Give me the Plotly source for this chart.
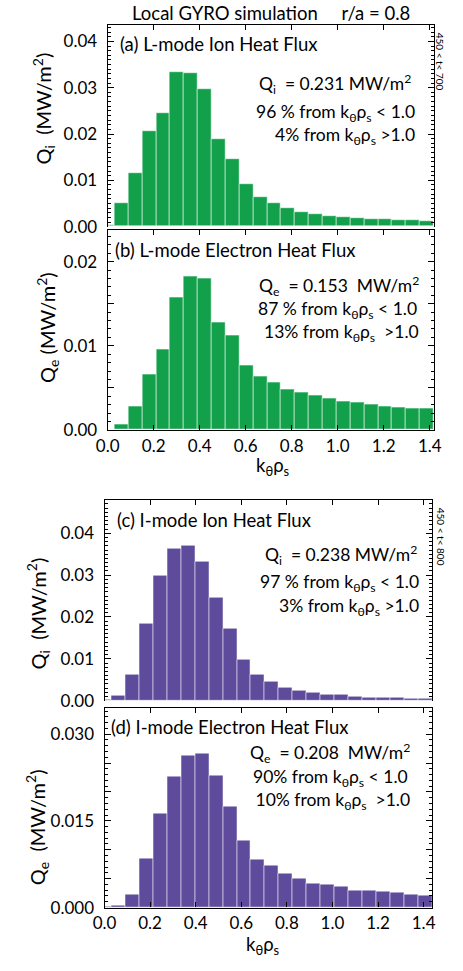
import plotly.graph_objects as go

W, H = 463, 971

# k_theta * rho_s grid (bin centres) for the two runs
k_lmode = [0.0, 0.0603, 0.1206, 0.1809, 0.2412, 0.3015, 0.3618, 0.4221, 0.4824, 0.5427,
           0.6030, 0.6633, 0.7236, 0.7839, 0.8442, 0.9045, 0.9648, 1.0251, 1.0854, 1.1457,
           1.2060, 1.2663, 1.3266, 1.3869]
k_imode = [0.0, 0.0612, 0.1224, 0.1836, 0.2448, 0.3060, 0.3672, 0.4284, 0.4896, 0.5508,
           0.6120, 0.6732, 0.7344, 0.7956, 0.8568, 0.9180, 0.9792, 1.0404, 1.1016, 1.1628,
           1.2240, 1.2852, 1.3464, 1.4076]
dk_lmode = 0.0603
dk_imode = 0.0612

# heat flux spectra (MW/m^2 per bin)
qi_lmode = [0.0002, 0.0050, 0.0116, 0.0207, 0.0246, 0.0334, 0.0331, 0.0297, 0.0188, 0.0146,
            0.0091, 0.0063, 0.0050, 0.0039, 0.0031, 0.0027, 0.0023, 0.0021, 0.0019, 0.0017,
            0.0016, 0.0014, 0.0013, 0.0012]
qe_lmode = [0.0001, 0.0007, 0.0028, 0.0066, 0.0096, 0.0157, 0.0182, 0.0180, 0.0127, 0.0112,
            0.0077, 0.0063, 0.0056, 0.0048, 0.0044, 0.0041, 0.0037, 0.0034, 0.0032, 0.0030,
            0.0028, 0.0027, 0.0026, 0.0025]
qi_imode = [0.0001, 0.0012, 0.0061, 0.0183, 0.0299, 0.0364, 0.0369, 0.0331, 0.0247, 0.0171,
            0.0097, 0.0061, 0.0046, 0.0031, 0.0024, 0.0018, 0.0015, 0.0013, 0.0009, 0.0008,
            0.0006, 0.0006, 0.0005, 0.0004]
qe_imode = [0.0001, 0.0003, 0.0022, 0.0084, 0.0163, 0.0226, 0.0263, 0.0267, 0.0228, 0.0174,
            0.0115, 0.0083, 0.0073, 0.0058, 0.0050, 0.0041, 0.0039, 0.0036, 0.0030, 0.0029,
            0.0027, 0.0025, 0.0023, 0.0021]

x_ticks = [0.0, 0.2, 0.4, 0.6, 0.8, 1.0, 1.2, 1.4]
x_ticklabels = ["0.0", "0.2", "0.4", "0.6", "0.8", "1.0", "1.2", "1.4"]

GREEN = "#12a04b"
PURPLE = "#5f4b9c"
EDGE = "rgba(255,255,255,0.5)"
FONT = "Lato"


def px(x):
    return x / W


def py(y):
    return 1 - y / H


fig = go.Figure()

panels = [
    dict(k=k_lmode, q=qi_lmode, dk=dk_lmode, color=GREEN, xdom=(100, 440.7), ydom=(229, 25.5),
         yrange=[0, 0.0435], yticks=[0, 0.01, 0.02, 0.03, 0.04],
         ylabels=["0.00", "0.01", "0.02", "0.03", "0.04"], xtop=True),
    dict(k=k_lmode, q=qe_lmode, dk=dk_lmode, color=GREEN, xdom=(100, 440.7), ydom=(434.5, 232),
         yrange=[0, 0.0238], yticks=[0, 0.005, 0.01, 0.015, 0.02],
         ylabels=["0.00", "", "0.01", "", "0.02"], xtop=False),
    dict(k=k_imode, q=qi_imode, dk=dk_imode, color=PURPLE, xdom=(96.7, 439.3), ydom=(708, 505),
         yrange=[0, 0.048], yticks=[0, 0.01, 0.02, 0.03, 0.04],
         ylabels=["0.00", "0.01", "0.02", "0.03", "0.04"], xtop=True),
    dict(k=k_imode, q=qe_imode, dk=dk_imode, color=PURPLE, xdom=(96.7, 439.3), ydom=(917, 715),
         yrange=[0, 0.0346], yticks=[0, 0.005, 0.01, 0.015, 0.02, 0.025, 0.03],
         ylabels=["0.000", "", "", "0.015", "", "", "0.030"], xtop=False),
]

axis_common = dict(showline=True, linecolor="black", linewidth=1.2, ticks="inside",
                   tickcolor="black", tickwidth=1, showgrid=False, zeroline=False,
                   tickfont=dict(family=FONT, size=17, color="black"))

layout_axes = {}
for i, p in enumerate(panels, start=1):
    xa = "x" if i == 1 else f"x{i}"
    ya = "y" if i == 1 else f"y{i}"
    fig.add_trace(go.Bar(x=p["k"], y=p["q"], width=p["dk"], xaxis=xa, yaxis=ya,
                         marker=dict(color=p["color"], line=dict(color=EDGE, width=1)),
                         showlegend=False))
    xkey = "xaxis" if i == 1 else f"xaxis{i}"
    ykey = "yaxis" if i == 1 else f"yaxis{i}"
    xmax = 23.5 * p["dk"]
    xaxis = dict(axis_common, domain=[px(p["xdom"][0]), px(p["xdom"][1])], anchor=ya,
                 range=[0, xmax], tickvals=x_ticks, ticktext=x_ticklabels, ticklen=5)
    if p["xtop"]:
        xaxis.update(side="top", showticklabels=False, mirror=False)
    else:
        xaxis.update(mirror="ticks", showticklabels=True)
    yaxis = dict(axis_common, domain=[py(p["ydom"][0]), py(p["ydom"][1])], anchor=xa,
                 range=p["yrange"], tickvals=p["yticks"], ticktext=p["ylabels"], ticklen=6,
                 mirror="ticks", ticklabelstandoff=6,
                 minor=dict(ticks="inside", ticklen=3, dtick=0.001, tick0=0,
                            tickcolor="black", tickwidth=1))
    layout_axes[xkey] = xaxis
    layout_axes[ykey] = yaxis

fig.update_layout(**layout_axes)

ann = []


def text(x, y, s, size=17.5, xanchor="left", angle=0):
    ann.append(dict(x=px(x), y=py(y), xref="paper", yref="paper", text=s, showarrow=False,
                    xanchor=xanchor, yanchor="middle", textangle=angle,
                    font=dict(family=FONT, size=size, color="black")))


K = "k<sub>θ</sub>ρ<sub>s</sub>"
NB = "\u00a0"

text(271, 13, f"Local GYRO simulation{NB * 5}r/a = 0.8", size=18.5, xanchor="center")

# panel (a)
text(111, 44, "(a) L-mode Ion Heat Flux", size=18.5)
text(419, 85, f"Q<sub>i</sub>{NB * 2}= 0.231 MW/m<sup>2</sup>", xanchor="right")
text(423, 114, f"96 % from {K} < 1.0", xanchor="right")
text(423, 137, f"4% from {K} >1.0", xanchor="right")
text(447, 62, "450 < t< 700", size=10, xanchor="center", angle=90)
text(33, 110, f"Q<sub>i</sub>{NB * 2}(MW/m<sup>2</sup>)", size=20, xanchor="center", angle=-90)

# panel (b)
text(106, 253, "(b) L-mode Electron Heat Flux", size=18.5)
text(427, 289, f"Q<sub>e</sub>{NB * 2}= 0.153{NB * 2}MW/m<sup>2</sup>", xanchor="right")
text(425, 313, f"87 % from {K} < 1.0", xanchor="right")
text(427, 336, f"13% from {K}{NB * 2}>1.0", xanchor="right")
text(37, 331, f"Q<sub>e</sub>{NB}(MW/m<sup>2</sup>)", size=20, xanchor="center", angle=-90)
text(273, 471, K, size=18.5, xanchor="center")

# panel (c)
text(108, 525, "(c) I-mode Ion Heat Flux", size=18.5)
text(425, 561, f"Q<sub>i</sub>{NB * 2}= 0.238 MW/m<sup>2</sup>", xanchor="right")
text(427, 589, f"97 % from {K} < 1.0", xanchor="right")
text(427, 613, f"3% from {K} >1.0", xanchor="right")
text(448, 542, "450 < t< 800", size=10, xanchor="center", angle=90)
text(27, 620, f"Q<sub>i</sub>{NB * 2}(MW/m<sup>2</sup>)", size=20, xanchor="center", angle=-90)

# panel (d)
text(101, 735, "(d) I-mode Electron Heat Flux", size=18.5)
text(418, 761, f"Q<sub>e</sub>{NB * 2}= 0.208{NB * 2}MW/m<sup>2</sup>", xanchor="right")
text(416, 786, f"90% from {K} < 1.0", xanchor="right")
text(418, 809, f"{NB}10% from {K}{NB * 2}>1.0", xanchor="right")
text(27, 836, f"Q<sub>e</sub>{NB * 2}(MW/m<sup>2</sup>)", size=20, xanchor="center", angle=-90)
text(262, 955, K, size=18.5, xanchor="center")

fig.update_layout(
    width=W, height=H, margin=dict(l=0, r=0, t=0, b=0),
    paper_bgcolor="white", plot_bgcolor="white",
    bargap=0, barmode="overlay",
    annotations=ann,
    font=dict(family=FONT, color="black"),
)

fig.write_html("out.html")
